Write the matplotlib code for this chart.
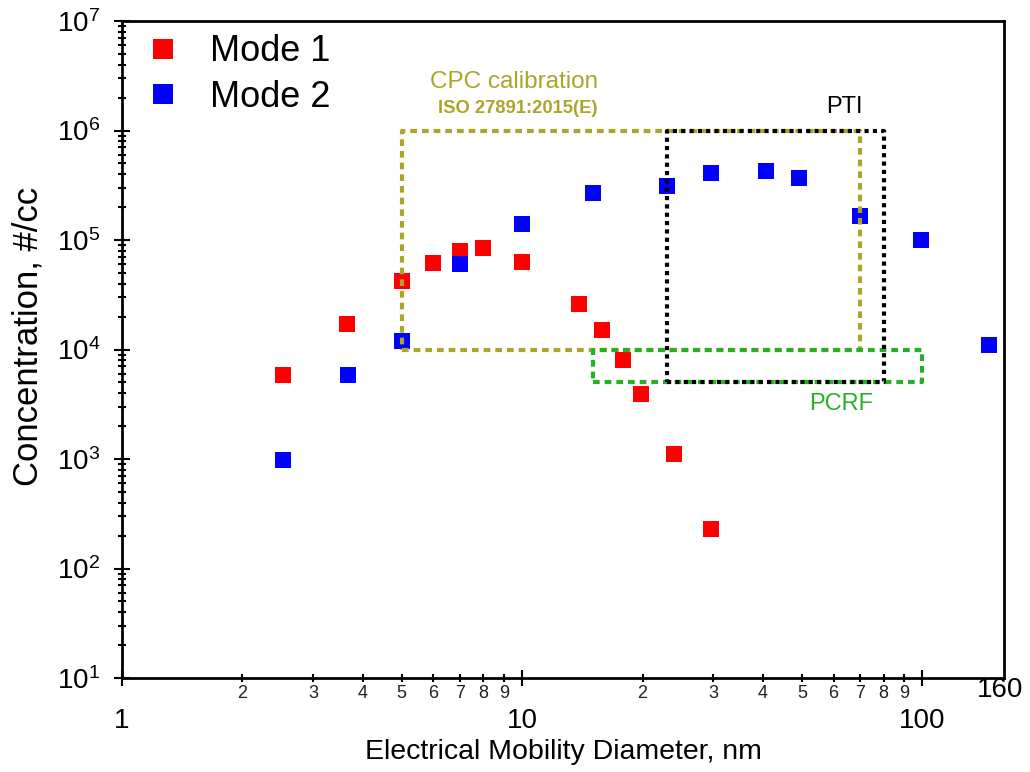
"""Concentration vs electrical mobility diameter, two modes, with calibration ranges."""

import matplotlib

matplotlib.use("Agg")
import matplotlib.pyplot as plt  # noqa: E402
from matplotlib.ticker import FuncFormatter, LogLocator, NullFormatter  # noqa: E402

plt.rcParams["font.family"] = ["Liberation Sans", "DejaVu Sans"]
plt.rcParams["mathtext.default"] = "regular"

# Mode 1 (red) and Mode 2 (blue): diameter, nm / concentration, #/cc
MODE1_D = [2.53, 3.64, 5.0, 6.0, 7.0, 8.0, 10.0, 13.9, 15.8, 17.9, 19.8, 23.9, 29.7]
MODE1_C = [5.8e3, 1.7e4, 4.2e4, 6.2e4, 8.0e4, 8.4e4, 6.3e4, 2.6e4, 1.5e4, 8.1e3,
           3.9e3, 1.1e3, 2.3e2]
MODE2_D = [2.53, 3.67, 5.0, 7.0, 10.0, 15.0, 23.0, 29.7, 40.6, 49.3, 70.0, 99.0, 147.0]
MODE2_C = [9.7e2, 5.8e3, 1.2e4, 6.0e4, 1.4e5, 2.7e5, 3.1e5, 4.1e5, 4.3e5, 3.7e5,
           1.66e5, 1.0e5, 1.1e4]

# Ranges (x0, x1, y0, y1)
CPC_BOX = (5.0, 70.0, 1e4, 1e6)
PTI_BOX = (23.0, 80.0, 5e3, 1e6)
PCRF_BOX = (15.0, 100.0, 5e3, 1e4)

OLIVE = "#aba52a"
GREEN = "#27b027"


def box(ax, b, **kw):
    x0, x1, y0, y1 = b
    ax.plot([x0, x1, x1, x0, x0], [y0, y0, y1, y1, y0], zorder=3, **kw)


def minor_lbl(v, _pos):
    if not 1 <= v <= 160:
        return ""
    lead = int(round(v / 10 ** int(f"{v:e}".split("e")[1])))
    return str(lead) if 2 <= lead <= 9 else ""


fig = plt.figure(figsize=(10.30, 7.72), dpi=100)
ax = fig.add_axes([122 / 1030, 1 - 678 / 772, (1004 - 122) / 1030, (678 - 21) / 772])

ax.plot(MODE1_D, MODE1_C, "s", color="#ff0000", ms=12, mew=0, label="Mode 1", zorder=2)
ax.plot(MODE2_D, MODE2_C, "s", color="#0000ff", ms=12, mew=0, label="Mode 2", zorder=2)

box(ax, CPC_BOX, color=OLIVE, lw=3, linestyle=(0, (1.6, 1.2)))
box(ax, PCRF_BOX, color=GREEN, lw=3, linestyle=(0, (1.6, 1.2)))
box(ax, PTI_BOX, color="black", lw=3, linestyle=(0, (1.0, 1.0)))

ax.set_xscale("log")
ax.set_yscale("log")
ax.set_xlim(1, 160)
ax.set_ylim(10, 1e7)

ax.xaxis.set_major_locator(LogLocator(base=10, numticks=10))
ax.xaxis.set_major_formatter(FuncFormatter(lambda v, p: f"{v:g}"))
ax.xaxis.set_minor_locator(LogLocator(base=10, subs=range(2, 10), numticks=20))
ax.xaxis.set_minor_formatter(FuncFormatter(minor_lbl))
ax.yaxis.set_minor_locator(LogLocator(base=10, subs=range(2, 10), numticks=20))
ax.yaxis.set_minor_formatter(NullFormatter())

ax.tick_params(which="both", direction="inout", top=False, right=False, width=1.5,
               color="black")
ax.tick_params(which="major", length=11, labelsize=20)
ax.tick_params(which="minor", length=6)
ax.tick_params(axis="x", which="major", pad=16)
ax.tick_params(axis="x", which="minor", pad=2, labelsize=13, labelcolor="#222222")
ax.tick_params(axis="y", which="major", pad=10)
for s in ax.spines.values():
    s.set_linewidth(2)

ax.annotate("160", (160, 0), xycoords=("data", "axes fraction"), xytext=(-3, 1),
            textcoords="offset points", ha="center", va="top", fontsize=20)

ax.set_xlabel("Electrical Mobility Diameter, nm", fontsize=20.5, labelpad=4)
ax.set_ylabel("Concentration, #/cc", fontsize=25)
ax.yaxis.set_label_coords(-0.088, 0.52)

ax.text(5.9, 2.8e6, "CPC calibration", color=OLIVE, fontsize=17.5, va="center")
ax.text(6.15, 1.6e6, "ISO 27891:2015(E)", color=OLIVE, fontsize=13.2,
        fontweight="bold", va="center")
ax.text(57.5, 1.65e6, "PTI", color="black", fontsize=17, va="center")
ax.text(52.2, 3.2e3, "PCRF", color=GREEN, fontsize=17, va="center")

ax.legend(loc="upper left", bbox_to_anchor=(0.026, 0.98), frameon=False,
          fontsize=26, borderpad=0, borderaxespad=0, handlelength=1.0,
          handletextpad=0.8, labelspacing=0.3, markerscale=1.2)

fig.savefig("out.png", dpi=100)
